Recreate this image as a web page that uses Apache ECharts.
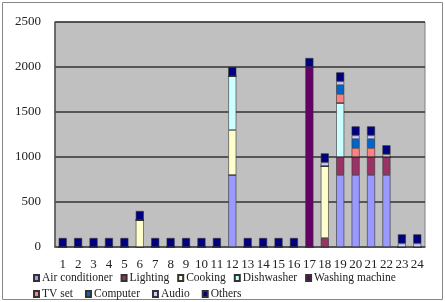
<!DOCTYPE html>
<html>
<head>
<meta charset="utf-8">
<script src="https://cdn.jsdelivr.net/npm/echarts@6/dist/echarts.min.js"></script>
<style>
  html, body { margin: 0; padding: 0; background: #fff; }
  #chart { width: 445px; height: 302px; }
</style>
</head>
<body>
<div id="chart"></div>
<script>
// hours of the day
var hours = ['1','2','3','4','5','6','7','8','9','10','11','12','13','14','15','16','17','18','19','20','21','22','23','24']

// power per appliance (W)
var airConditioner = [0,0,0,0,0,0,0,0,0,0,0,800,0,0,0,0,0,0,800,800,800,800,0,0]
var lighting       = [0,0,0,0,0,0,0,0,0,0,0,0,0,0,0,0,0,100,200,200,200,200,0,0]
var cooking        = [0,0,0,0,0,300,0,0,0,0,0,500,0,0,0,0,0,800,0,0,0,0,0,0]
var dishwasher     = [0,0,0,0,0,0,0,0,0,0,0,600,0,0,0,0,0,0,600,0,0,0,0,0]
var washingMachine = [0,0,0,0,0,0,0,0,0,0,0,0,0,0,0,0,2000,0,0,0,0,0,0,0]
var tvSet          = [0,0,0,0,0,0,0,0,0,0,0,0,0,0,0,0,0,0,100,100,100,0,0,0]
var computer       = [0,0,0,0,0,0,0,0,0,0,0,0,0,0,0,0,0,0,100,100,100,0,0,0]
var audio          = [0,0,0,0,0,0,0,0,0,0,0,0,0,0,0,0,0,40,40,40,40,30,40,40]
var others         = [100,100,100,100,100,100,100,100,100,100,100,100,100,100,100,100,100,100,100,100,100,100,100,100]

var yTicks = [0, 500, 1000, 1500, 2000, 2500]

var names = ['Air conditioner','Lighting','Cooking','Dishwasher','Washing machine','TV set','Computer','Audio','Others']
var values = [airConditioner, lighting, cooking, dishwasher, washingMachine, tvSet, computer, audio, others]
var colors = ['#9999ff','#993366','#ffffcc','#ccffff','#660066','#ff8080','#0066cc','#ccccff','#000080']

var font = '"Liberation Serif", "DejaVu Serif", serif'

var chart = echarts.init(document.getElementById('chart'))

var series = names.map(function (n, i) {
  return {
    name: n,
    type: 'bar',
    stack: 'total',
    barWidth: 8,
    data: values[i],
    itemStyle: { color: colors[i], borderColor: '#333', borderWidth: 0.6 }
  }
})

var legendBase = {
  left: 33, width: 420, padding: 0,
  itemWidth: 5, itemHeight: 6,
  icon: 'rect',
  textStyle: { fontFamily: font, fontSize: 11.5, color: '#222', padding: [0, 0, 0, -2] }
}

chart.setOption({
  animation: false,
  textStyle: { fontFamily: font },
  graphic: [{
    type: 'rect',
    shape: { x: 2.5, y: 2.5, width: 440, height: 297 },
    style: { fill: 'none', stroke: '#888', lineWidth: 1 },
    silent: true
  }],
  grid: {
    left: 55, right: 20, top: 22, bottom: 55,
    show: true,
    backgroundColor: '#c0c0c0',
    borderColor: '#808080',
    borderWidth: 1
  },
  legend: [
    Object.assign({}, legendBase, { data: names.slice(0, 5), top: 272, itemGap: 8 }),
    Object.assign({}, legendBase, { data: names.slice(5), top: 288, itemGap: 12 })
  ],
  xAxis: {
    type: 'category',
    data: hours,
    axisTick: { show: false },
    axisLine: { lineStyle: { color: '#555', width: 1.5 } },
    axisLabel: { fontFamily: font, fontSize: 13, color: '#222', margin: 11, interval: 0 }
  },
  yAxis: {
    type: 'value',
    min: yTicks[0],
    max: yTicks[yTicks.length - 1],
    interval: 500,
    axisLine: { show: true, lineStyle: { color: '#555', width: 1.5 } },
    axisTick: { show: false },
    axisLabel: { fontFamily: font, fontSize: 13, color: '#222', margin: 14, formatter: function (v) { return String(v) } },
    splitLine: { lineStyle: { color: '#333', width: 1.5 } }
  },
  series: series
})
</script>
</body>
</html>
